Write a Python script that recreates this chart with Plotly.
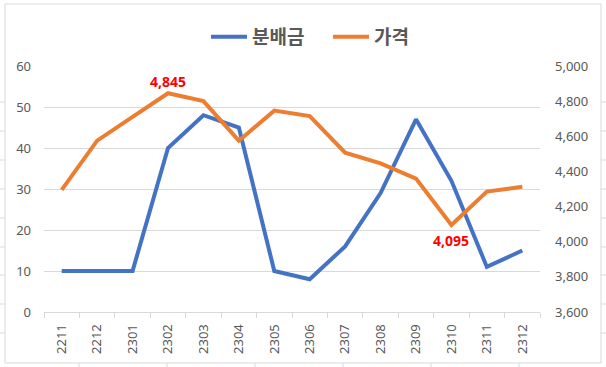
import plotly.graph_objects as go

categories = ["2211", "2212", "2301", "2302", "2303", "2304", "2305",
              "2306", "2307", "2308", "2309", "2310", "2311", "2312"]
dividend = [10, 10, 10, 40, 48, 45, 10, 8, 16, 29, 47, 32, 11, 15]
price = [4295, 4575, 4710, 4845, 4800, 4575, 4746, 4715, 4507, 4446, 4359, 4095, 4285, 4313]
series_names = ["분배금", "가격"]

W, H = 606, 367
L, R, T, B = 44, 66, 66, 55
PW, PH = W - L - R, H - T - B

def px(x):
    return (x - L) / PW

def py(y):
    return (H - B - y) / PH

GRID = "#d9d9d9"
TXT = "#595959"
FONT = "Noto Sans, Noto Sans CJK KR, sans-serif"

fig = go.Figure()
fig.add_trace(go.Scatter(x=categories, y=dividend, name=series_names[0], mode="lines",
                         line=dict(color="#4472C4", width=4), yaxis="y"))
fig.add_trace(go.Scatter(x=categories, y=price, name=series_names[1], mode="lines",
                         line=dict(color="#ED7D31", width=4), yaxis="y2"))

imax = price.index(max(price))
imin = price.index(min(price))
for i, shift in ((imax, 12), (imin, -15)):
    fig.add_annotation(x=i, y=price[i], xref="x", yref="y2",
                       text=f"{price[i]:,}", showarrow=False, yshift=shift,
                       font=dict(family=FONT, size=14, color="#FF0000", weight="bold"))

shapes = []
# chart border
shapes.append(dict(type="rect", xref="paper", yref="paper", x0=px(5), x1=px(601),
                   y0=py(363), y1=py(4), line=dict(color=GRID, width=1)))
# spreadsheet cell lines outside the chart
for row in (102, 131, 160, 189, 218, 247, 275, 304, 333):
    shapes.append(dict(type="line", xref="paper", yref="paper", x0=px(0), x1=px(5),
                       y0=py(row), y1=py(row), line=dict(color=GRID, width=1)))
    shapes.append(dict(type="line", xref="paper", yref="paper", x0=px(601), x1=px(606),
                       y0=py(row), y1=py(row), line=dict(color=GRID, width=1)))
for col in (79, 167, 255, 343, 431, 519):
    shapes.append(dict(type="line", xref="paper", yref="paper", x0=px(col), x1=px(col),
                       y0=py(363), y1=py(367), line=dict(color=GRID, width=1)))

fig.update_layout(
    width=W, height=H,
    margin=dict(l=L, r=R, t=T, b=B, autoexpand=False),
    paper_bgcolor="white", plot_bgcolor="white",
    font=dict(family=FONT, color=TXT, size=13),
    showlegend=True,
    legend=dict(orientation="h", x=206 / W, xanchor="left", xref="container",
                y=1 - 37 / H, yanchor="middle", yref="container",
                font=dict(family="Noto Sans CJK KR", size=19, color=TXT, weight="bold"),
                itemwidth=36, entrywidth=71, tracegroupgap=0, bgcolor="rgba(0,0,0,0)"),
    xaxis=dict(type="category", range=[-0.5, len(categories) - 0.5],
               showline=True, linecolor=GRID, linewidth=1, dtick=1,
               ticks="outside", tickson="boundaries", ticklen=5, tickcolor=GRID,
               tickangle=-90, showgrid=False, ticklabelstandoff=6, automargin=False,
               tickfont=dict(size=13, color=TXT)),
    yaxis=dict(range=[0, 60], dtick=10, showgrid=True, gridcolor=GRID, gridwidth=1,
               zeroline=False, showline=False, ticks="", ticklabelstandoff=12,
               automargin=False, tickfont=dict(size=13, color=TXT)),
    yaxis2=dict(range=[3600, 5000], dtick=200, overlaying="y", side="right",
                showgrid=False, zeroline=False, showline=False, ticks="",
                tickformat=",", ticklabelstandoff=14, automargin=False,
                tickfont=dict(size=13, color=TXT)),
    shapes=shapes,
)

fig.write_html("out.html", config={"displayModeBar": False},
               post_script="document.body.style.margin='0';")
